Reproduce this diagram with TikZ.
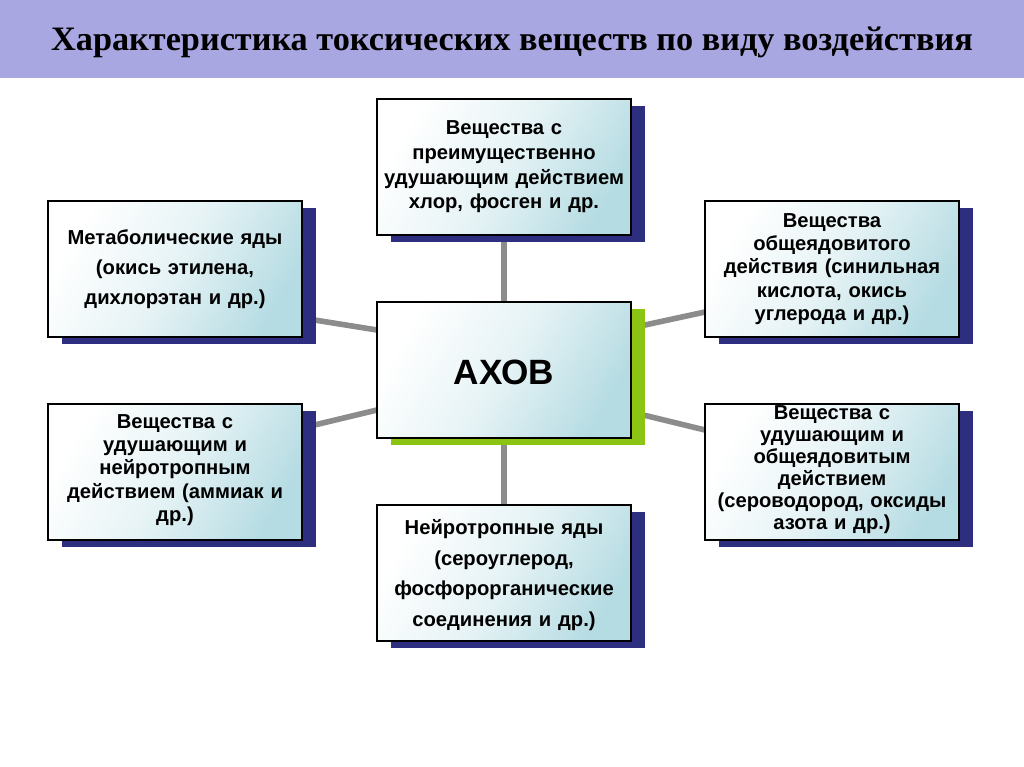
\documentclass[tikz,border=0pt]{standalone}
\usepackage{fontspec}
\setmainfont{Liberation Sans}
\newfontfamily\titlefont{Liberation Serif}
\definecolor{band}{HTML}{A9A7E2}
\definecolor{navy}{HTML}{2E2E80}
\definecolor{lime}{HTML}{8CC414}
\definecolor{tealbg}{HTML}{B6DCE3}
\definecolor{conn}{HTML}{8C8C8C}
\begin{document}
\begin{tikzpicture}[x=0.02cm,y=-0.02cm,
  boxfg/.style={draw=black,line width=0.8pt,left color=white,right color=tealbg,middle color=white!65!tealbg,shading angle=60},
  lbl/.style={align=center,font=\bfseries\fontsize{11.5}{14}\selectfont,text width=4.9cm},
  conline/.style={draw=conn,line width=3.2pt}]
\useasboundingbox (0,0) rectangle (1024,767);
\fill[band] (0,0) rectangle (1024,78);
\node (title) at (512,42) {\titlefont\bfseries\fontsize{19.5}{22}\selectfont Характеристика токсических веществ по виду воздействия};
\coordinate (cT) at (504,302); \coordinate (cB) at (504,438);
\draw[conline] (504,236) -- (cT);
\draw[conline] (504,505) -- (cB);
\draw[conline] (302,318) -- (377,330);
\draw[conline] (302,428) -- (377,410);
\draw[conline] (631,328) -- (705,312);
\draw[conline] (631,412) -- (705,430);
\foreach \x/\y/\c in {377/99/navy,48/201/navy,705/201/navy,377/302/lime,48/404/navy,705/404/navy,377/505/navy}{
  \fill[\c] (\x+14,\y+7) rectangle (\x+268,\y+143);
  \shade[boxfg] (\x,\y) rectangle (\x+254,\y+136);
}
\node[lbl] (top) at (504,167) {Вещества с\\преимущественно\\удушающим действием\\хлор, фосген и др.};
\node[lbl,font=\bfseries\fontsize{11.5}{17}\selectfont] (l1) at (175,269) {Метаболические яды\\(окись этилена,\\дихлорэтан и др.)};
\node[lbl,font=\bfseries\fontsize{11.5}{13.2}\selectfont] (r1) at (832,269) {Вещества\\общеядовитого\\действия (синильная\\кислота, окись\\углерода и др.)};
\node[font=\bfseries\fontsize{20}{24}\selectfont] (c) at (504,372) {АХОВ};
\node[lbl,font=\bfseries\fontsize{11.5}{13.2}\selectfont] (l2) at (175,470) {Вещества с\\удушающим и\\нейротропным\\действием (аммиак и\\др.)};
\node[lbl,font=\bfseries\fontsize{11.5}{12.5}\selectfont] (r2) at (832,470) {Вещества с\\удушающим и\\общеядовитым\\действием\\(сероводород, оксиды\\азота и др.)};
\node[lbl,font=\bfseries\fontsize{11.5}{17.5}\selectfont] (b) at (504,575) {Нейротропные яды\\(сероуглерод,\\фосфорорганические\\соединения и др.)};
\end{tikzpicture}
\end{document}
